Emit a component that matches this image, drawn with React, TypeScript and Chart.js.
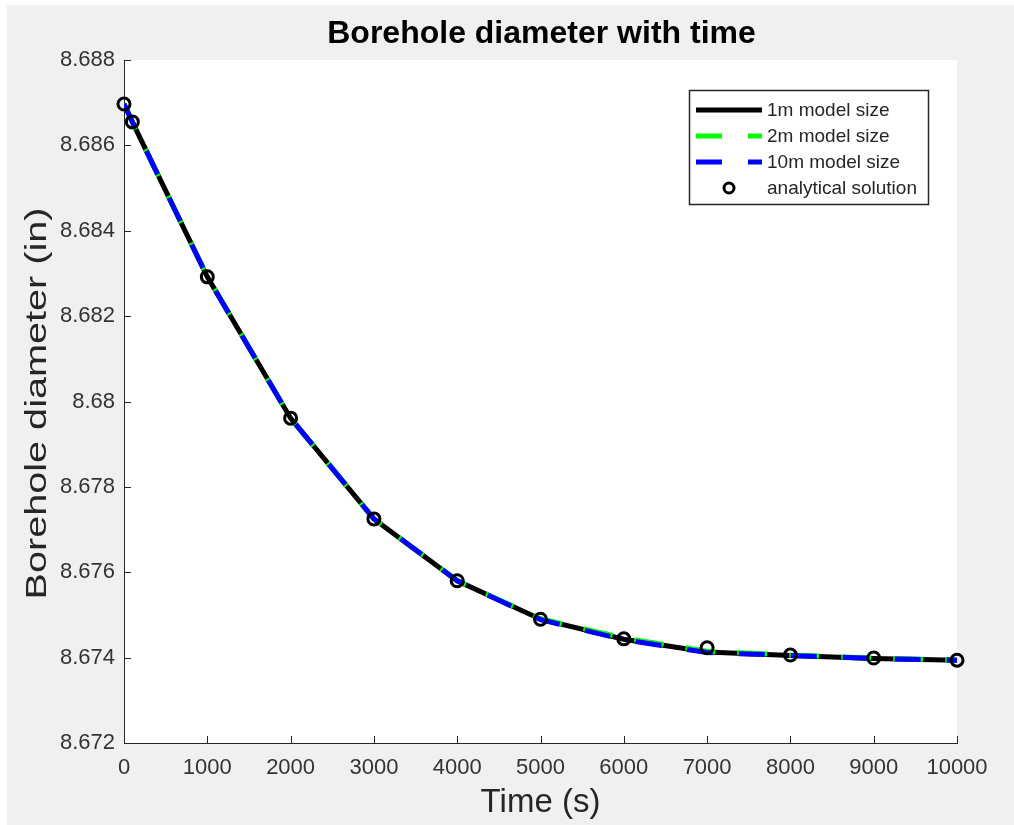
import React, { useEffect, useRef } from "react";
import { Chart, registerables } from "chart.js";

Chart.register(...registerables);

// ---- data ----
const timeS = [0, 100, 1000, 2000, 3000, 4000, 5000, 6000, 7000, 8000, 9000, 10000];
const model1m = [8.68697, 8.68655, 8.68292, 8.67961, 8.67725, 8.6758, 8.6749, 8.67443, 8.67413, 8.67405, 8.67398, 8.67394];
const model2m = [8.68697, 8.68655, 8.68292, 8.67961, 8.67725, 8.6758, 8.67491, 8.67446, 8.67415, 8.67406, 8.67399, 8.67394];
const model10m = [8.68697, 8.68655, 8.68292, 8.67961, 8.67725, 8.6758, 8.67489, 8.67442, 8.67412, 8.67405, 8.67398, 8.67394];
const analytical = [8.68697, 8.68655, 8.68292, 8.67961, 8.67725, 8.6758, 8.6749, 8.67444, 8.67423, 8.67406, 8.67399, 8.67394];

const xTickValues = [0, 1000, 2000, 3000, 4000, 5000, 6000, 7000, 8000, 9000, 10000];
const xTickLabels = ["0", "1000", "2000", "3000", "4000", "5000", "6000", "7000", "8000", "9000", "10000"];
const yTickValues = [8.672, 8.674, 8.676, 8.678, 8.68, 8.682, 8.684, 8.686, 8.688];
const yTickLabels = ["8.672", "8.674", "8.676", "8.678", "8.68", "8.682", "8.684", "8.686", "8.688"];

const seriesLabels = ["1m model size", "2m model size", "10m model size", "analytical solution"];
const chartTitle = "Borehole diameter with time";
const xTitle = "Time (s)";
const yTitle = "Borehole diameter (in)";

const FONT = "'Liberation Sans', Arial, Helvetica, sans-serif";
const TEXT = "#262626";
const BLACK = "#000000";
const GREEN = "#00ff00";
const BLUE = "#0000ff";
const DASH = [26, 26];

const toPoints = (ys: number[]) => timeS.map((x, i) => ({ x, y: ys[i] }));

const decorPlugin = {
  id: "decor",
  afterDraw(chart: any) {
    const { ctx, chartArea, scales } = chart;
    const xs = scales.x;
    const ys = scales.y;
    ctx.save();
    // inward tick marks
    ctx.strokeStyle = TEXT;
    ctx.lineWidth = 1;
    ctx.beginPath();
    xTickValues.forEach((v) => {
      const px = Math.round(xs.getPixelForValue(v)) + 0.5;
      ctx.moveTo(px, chartArea.bottom);
      ctx.lineTo(px, chartArea.bottom - 7);
    });
    yTickValues.forEach((v) => {
      const py = Math.round(ys.getPixelForValue(v)) + 0.5;
      ctx.moveTo(chartArea.left, py);
      ctx.lineTo(chartArea.left + 7, py);
    });
    ctx.stroke();

    // title
    ctx.fillStyle = "#000";
    ctx.font = `bold 32px ${FONT}`;
    ctx.textAlign = "center";
    ctx.textBaseline = "alphabetic";
    ctx.fillText(chartTitle, (chartArea.left + chartArea.right) / 2 + 1, 38);

    // y-axis title
    ctx.save();
    ctx.font = `30px ${FONT}`;
    ctx.fillStyle = TEXT;
    const w = ctx.measureText(yTitle).width;
    const targetLen = 392;
    ctx.translate(39, (chartArea.top + chartArea.bottom) / 2 + 2);
    ctx.rotate(-Math.PI / 2);
    ctx.scale(targetLen / w, 1);
    ctx.textAlign = "center";
    ctx.textBaseline = "alphabetic";
    ctx.fillText(yTitle, 0, 0);
    ctx.restore();

    // legend
    const bx = 682, by = 85, bw = 239, bh = 114;
    ctx.fillStyle = "#ffffff";
    ctx.fillRect(bx, by, bw, bh);
    ctx.strokeStyle = TEXT;
    ctx.lineWidth = 1.5;
    ctx.strokeRect(bx + 0.5, by + 0.5, bw, bh);
    const rows = [105, 131, 157, 183];
    const x0 = 689, x1 = 755;
    ctx.lineCap = "butt";
    ctx.setLineDash([]);
    ctx.strokeStyle = BLACK;
    ctx.lineWidth = 5;
    ctx.beginPath(); ctx.moveTo(x0, rows[0]); ctx.lineTo(x1, rows[0]); ctx.stroke();
    ctx.setLineDash(DASH);
    ctx.strokeStyle = GREEN;
    ctx.beginPath(); ctx.moveTo(x0, rows[1]); ctx.lineTo(x1, rows[1]); ctx.stroke();
    ctx.strokeStyle = BLUE;
    ctx.beginPath(); ctx.moveTo(x0, rows[2]); ctx.lineTo(x1, rows[2]); ctx.stroke();
    ctx.setLineDash([]);
    ctx.strokeStyle = BLACK;
    ctx.lineWidth = 3;
    ctx.beginPath(); ctx.arc((x0 + x1) / 2, rows[3], 5, 0, Math.PI * 2); ctx.stroke();
    ctx.fillStyle = TEXT;
    ctx.font = `19px ${FONT}`;
    ctx.textAlign = "left";
    ctx.textBaseline = "middle";
    seriesLabels.forEach((s, i) => ctx.fillText(s, 760, rows[i] + 1));
    ctx.restore();
  },
};

export default function App() {
  const ref = useRef<HTMLCanvasElement | null>(null);
  useEffect(() => {
    if (!ref.current) return;
    const chart = new Chart(ref.current, {
      type: "line",
      data: {
        datasets: [
          {
            label: seriesLabels[3],
            data: toPoints(analytical),
            showLine: false,
            pointStyle: "circle",
            pointRadius: 6,
            pointBorderWidth: 3,
            pointBorderColor: BLACK,
            pointBackgroundColor: "rgba(0,0,0,0)",
            borderColor: BLACK,
            clip: false as any,
            order: 0,
          },
          {
            label: seriesLabels[2],
            data: toPoints(model10m),
            borderColor: BLUE,
            borderWidth: 5,
            borderDash: DASH,
            pointRadius: 0,
            tension: 0,
            order: 1,
          },
          {
            label: seriesLabels[1],
            data: toPoints(model2m),
            borderColor: GREEN,
            borderWidth: 5,
            borderDash: [30, 22],
            borderDashOffset: 2,
            pointRadius: 0,
            tension: 0,
            order: 2,
          },
          {
            label: seriesLabels[0],
            data: toPoints(model1m),
            borderColor: BLACK,
            borderWidth: 5,
            pointRadius: 0,
            tension: 0,
            order: 3,
          },
        ],
      },
      options: {
        animation: false,
        responsive: false,
        maintainAspectRatio: false,
        layout: { padding: { top: 55, right: 57, left: 0, bottom: 0 } },
        plugins: {
          legend: { display: false },
          title: { display: false },
          tooltip: { enabled: false },
        },
        scales: {
          x: {
            type: "linear",
            min: 0,
            max: 10000,
            afterBuildTicks: (s: any) => {
              s.ticks = xTickValues.map((v) => ({ value: v }));
            },
            afterFit: (s: any) => {
              s.height = 82;
            },
            ticks: {
              autoSkip: false,
              maxRotation: 0,
              padding: 12,
              color: "#333333",
              font: { family: FONT, size: 22 },
              callback: (_v: any, i: number) => xTickLabels[i],
            },
            grid: { drawOnChartArea: false, drawTicks: false },
            border: { display: true, color: TEXT, width: 1 },
            title: {
              display: true,
              text: xTitle,
              color: TEXT,
              font: { family: FONT, size: 33 },
              padding: { top: 0, bottom: 2 },
            },
          },
          y: {
            type: "linear",
            min: 8.672,
            max: 8.688,
            afterBuildTicks: (s: any) => {
              s.ticks = yTickValues.map((v) => ({ value: v }));
            },
            afterFit: (s: any) => {
              s.width = 117;
            },
            ticks: {
              autoSkip: false,
              padding: 9,
              color: "#333333",
              font: { family: FONT, size: 22 },
              callback: (_v: any, i: number) => yTickLabels[i],
            },
            grid: { drawOnChartArea: false, drawTicks: false },
            border: { display: true, color: TEXT, width: 1 },
            title: { display: false, text: yTitle },
          },
        },
      },
      plugins: [decorPlugin],
    });
    return () => chart.destroy();
  }, []);

  return (
    <div style={{ position: "absolute", left: 0, top: 0, width: 1014, height: 825, background: "#ffffff" }}>
      <div style={{ position: "absolute", left: 7, top: 5, width: 1007, height: 820, background: "#f0f0f0" }}>
        <div style={{ position: "absolute", left: 117, top: 55, width: 833, height: 683, background: "#ffffff" }} />
        <canvas ref={ref} width={1007} height={820} style={{ position: "absolute", left: 0, top: 0, width: 1007, height: 820 }} />
      </div>
    </div>
  );
}
